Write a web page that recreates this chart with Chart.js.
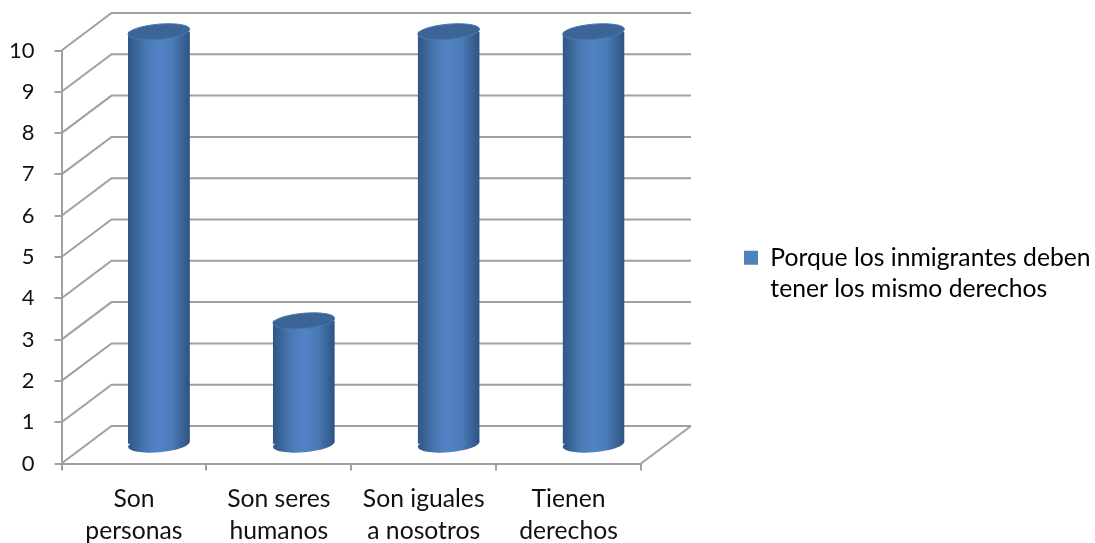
<!DOCTYPE html>
<html>
<head>
<meta charset="utf-8">
<script src="https://cdn.jsdelivr.net/npm/chart.js@4"></script>
<style>
  html, body { margin: 0; padding: 0; background: #fff; }
  canvas { display: block; }
</style>
</head>
<body>
<canvas id="chart" width="1095" height="543"></canvas>
<script>
const categories = [
  ["Son", "personas"],
  ["Son seres", "humanos"],
  ["Son iguales", "a nosotros"],
  ["Tienen", "derechos"],
];
const seriesName = ["Porque los inmigrantes deben", "tener los mismo derechos"];
const seriesValues = [10, 3, 10, 10];

const FONT = { family: "Lato, 'Open Sans', sans-serif", size: 24.7, lineHeight: "31.5px" };
const GRID = "#a0a0a0";
const DEPTH_X = 50;
const DEPTH_Y = 37.5;
const TILT = -5 * Math.PI / 180;

function barGradient(ctx, left, right) {
  const g = ctx.createLinearGradient(left, 0, right, 0);
  g.addColorStop(0, "#2f5583");
  g.addColorStop(0.3, "#4a7ab6");
  g.addColorStop(0.5, "#5183c6");
  g.addColorStop(0.72, "#4a7ab6");
  g.addColorStop(1, "#2e5280");
  return g;
}

// walls, floor and the round ends of the bars, which Chart.js has no element for
const walls3d = {
  id: "walls3d",
  afterLayout(chart) {
    chart.legend.top += 20;
    chart.legend.bottom += 20;
  },
  beforeDatasetsDraw(chart) {
    const { ctx, chartArea, scales } = chart;
    const bars = chart.getDatasetMeta(0).data;

    ctx.save();
    ctx.strokeStyle = GRID;
    ctx.lineWidth = 2;
    scales.y.ticks.forEach((tick) => {
      const y = scales.y.getPixelForValue(tick.value);
      ctx.beginPath();
      ctx.moveTo(chartArea.left, y);
      ctx.lineTo(chartArea.left + DEPTH_X, y - DEPTH_Y);
      ctx.lineTo(chartArea.right + DEPTH_X, y - DEPTH_Y);
      ctx.stroke();
    });
    ctx.beginPath();
    ctx.moveTo(chartArea.right, chartArea.bottom);
    ctx.lineTo(chartArea.right + DEPTH_X, chartArea.bottom - DEPTH_Y);
    ctx.stroke();

    ctx.translate(DEPTH_X / 2, -DEPTH_Y / 2);
    bars.forEach((bar) => {
      ctx.fillStyle = barGradient(ctx, bar.x - bar.width / 2, bar.x + bar.width / 2);
      ctx.beginPath();
      ctx.ellipse(bar.x, bar.base + 0.5, bar.width / 2, 8, TILT, 0, Math.PI * 2);
      ctx.fill();
    });

    // cut the foot of each bar along the tilt of its base
    ctx.beginPath();
    bars.forEach((bar) => {
      const l = bar.x - bar.width / 2;
      const r = bar.x + bar.width / 2;
      ctx.moveTo(l, -100);
      ctx.lineTo(r, -100);
      ctx.lineTo(r, bar.base - 2.2);
      ctx.lineTo(l, bar.base + 3.2);
      ctx.closePath();
    });
    ctx.clip();
  },
  afterDatasetsDraw(chart) {
    const { ctx } = chart;
    ctx.restore();
    ctx.save();
    ctx.translate(DEPTH_X / 2, -DEPTH_Y / 2);
    chart.getDatasetMeta(0).data.forEach((bar) => {
      ctx.fillStyle = "#3a6596";
      ctx.strokeStyle = "#4a78ad";
      ctx.lineWidth = 1;
      ctx.beginPath();
      ctx.ellipse(bar.x, bar.y, bar.width / 2, 7.6, TILT, 0, Math.PI * 2);
      ctx.fill();
      ctx.stroke();
    });
    ctx.restore();
  },
};

new Chart(document.getElementById("chart"), {
  type: "bar",
  data: {
    labels: categories,
    datasets: [
      {
        label: seriesName,
        data: seriesValues,
        clip: false,
        barPercentage: 62 / 145,
        categoryPercentage: 1,
        borderWidth: 0,
        backgroundColor(c) {
          const x = c.chart.scales.x.getPixelForValue(c.dataIndex);
          return barGradient(c.chart.ctx, x - 31, x + 31);
        },
      },
    ],
  },
  plugins: [walls3d],
  options: {
    responsive: false,
    animation: false,
    events: [],
    layout: { padding: { top: 50.5, left: 0, right: 0, bottom: 0 } },
    scales: {
      x: {
        afterFit(scale) {
          scale.height = 79.5;
        },
        grid: {
          offset: true,
          drawOnChartArea: false,
          tickLength: 7,
          tickColor: GRID,
          lineWidth: 2,
        },
        border: { color: GRID, width: 2 },
        ticks: {
          color: "#111",
          font: FONT,
          padding: 13,
          maxRotation: 0,
          autoSkip: false,
        },
      },
      y: {
        min: 0,
        max: 10,
        afterFit(scale) {
          scale.width = 61.5;
        },
        grid: {
          drawOnChartArea: false,
          tickLength: 7,
          tickColor: GRID,
          lineWidth: 2,
        },
        border: { color: GRID, width: 2 },
        ticks: {
          stepSize: 1,
          color: "#111",
          font: { family: FONT.family, size: 22 },
          padding: 20,
        },
      },
    },
    plugins: {
      tooltip: { enabled: false },
      legend: {
        position: "right",
        fullSize: false,
        maxWidth: 454,
        labels: {
          color: "#111",
          font: FONT,
          boxWidth: 14,
          boxHeight: 14,
          padding: 103,
          textAlign: "left",
          generateLabels(chart) {
            return [
              {
                text: chart.data.datasets[0].label,
                fillStyle: "#4f81bd",
                strokeStyle: "#4f81bd",
                lineWidth: 0,
                datasetIndex: 0,
              },
            ];
          },
        },
      },
    },
  },
});
</script>
</body>
</html>
